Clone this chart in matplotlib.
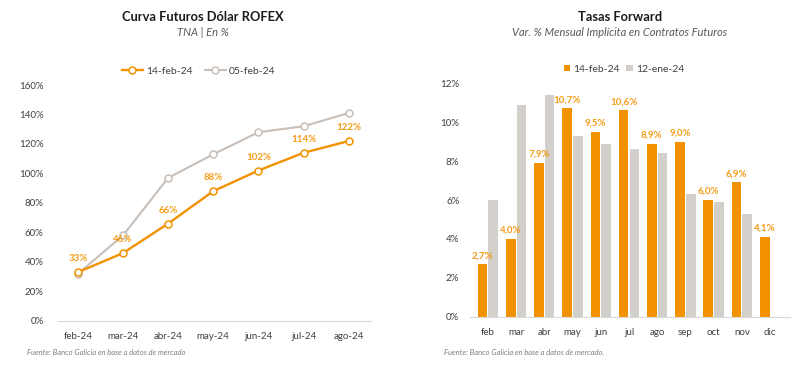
import matplotlib.pyplot as plt
import numpy as np

plt.rcParams['font.family'] = ['Lato', 'DejaVu Sans']

# left chart: futures curve
meses_fut = ["feb-24", "mar-24", "abr-24", "may-24", "jun-24", "jul-24", "ago-24"]
tna_14feb = [33, 46, 66, 88, 102, 114, 122]
tna_05feb = [32, 58, 97, 113, 128, 132, 141]

# right chart: forward rates
meses_fwd = ["feb", "mar", "abr", "may", "jun", "jul", "ago", "sep", "oct", "nov", "dic"]
fwd_14feb = [2.7, 4.0, 7.9, 10.7, 9.5, 10.6, 8.9, 9.0, 6.0, 6.9, 4.1]
fwd_12ene = [6.0, 10.9, 11.4, 9.3, 8.9, 8.6, 8.4, 6.3, 5.9, 5.3, np.nan]

orange = '#F39200'
grey_line = '#C8BFB8'
grey_bar = '#D3CFCB'
txt = '#404040'

fig = plt.figure(figsize=(8, 3.68), dpi=100)

# ---- left
ax1 = fig.add_axes([0.072, 0.128, 0.392, 0.641])
x = np.arange(len(meses_fut))
ax1.plot(x, tna_05feb, color=grey_line, lw=1.5, marker='o', ms=5,
         mfc='white', mec=grey_line, mew=1.1, label='05-feb-24', zorder=2)
ax1.plot(x, tna_14feb, color=orange, lw=1.7, marker='o', ms=5,
         mfc='white', mec=orange, mew=1.1, label='14-feb-24', zorder=3)
for xi, v in zip(x, tna_14feb):
    ax1.text(xi, v + 6, f"{v}%", ha='center', va='bottom', color=orange,
             fontsize=7, fontweight='bold', alpha=0.9)
ax1.set_xlim(-0.45, 6.5)
ax1.set_ylim(0, 160)
ax1.set_yticks(range(0, 161, 20))
ax1.set_yticklabels([f"{v}%" for v in range(0, 161, 20)])
ax1.set_xticks(x)
ax1.set_xticklabels(meses_fut)
h, l = ax1.get_legend_handles_labels()
ax1.legend(h[::-1], l[::-1], loc='lower center', bbox_to_anchor=(0.45, 1.0),
           ncol=2, frameon=False, fontsize=7.5, handlelength=2,
           columnspacing=1.2, handletextpad=0.3, labelcolor=txt)

# ---- right
ax2 = fig.add_axes([0.588, 0.139, 0.400, 0.635])
xb = np.arange(len(meses_fwd))
w = 0.34
ax2.bar(xb - 0.19, fwd_14feb, w, color=orange, label='14-feb-24')
ax2.bar(xb + 0.19, fwd_12ene, w, color=grey_bar, label='12-ene-24')
for xi, v in zip(xb, fwd_14feb):
    ax2.text(xi - 0.19, v + 0.2, f"{v:.1f}%".replace('.', ','), ha='center',
             va='bottom', color=orange, fontsize=7, fontweight='bold', alpha=0.9)
ax2.set_xlim(-0.62, 10.72)
ax2.set_ylim(0, 12)
ax2.set_yticks(range(0, 13, 2))
ax2.set_yticklabels([f"{v}%" for v in range(0, 13, 2)])
ax2.set_xticks(xb)
ax2.set_xticklabels(meses_fwd)
ax2.legend(loc='lower center', bbox_to_anchor=(0.48, 1.0), ncol=2,
           frameon=False, fontsize=7.5, handlelength=0.6, handleheight=0.6,
           columnspacing=0.6, handletextpad=0.3, labelcolor=txt)

for ax in (ax1, ax2):
    for s in ('top', 'right', 'left'):
        ax.spines[s].set_visible(False)
    ax.spines['bottom'].set_color('#D9D9D9')
    ax.tick_params(axis='both', length=0, labelsize=7, colors=txt)
    ax.tick_params(axis='x', pad=8)
ax1.tick_params(axis='y', pad=10)
ax2.tick_params(axis='y', pad=8)

fig.text(0.254, 0.955, "Curva Futuros Dólar ROFEX", ha='center', va='center',
         fontsize=9.3, fontweight='bold', color='#1a1a1a')
fig.text(0.254, 0.912, "TNA | En %", ha='center', va='center', fontsize=8,
         style='italic', color='#595959')
fig.text(0.775, 0.955, "Tasas Forward", ha='center', va='center',
         fontsize=9.3, fontweight='bold', color='#1a1a1a')
fig.text(0.775, 0.912, "Var. % Mensual Implícita en Contratos Futuros",
         ha='center', va='center', fontsize=8, style='italic', color='#595959')
fig.text(0.034, 0.035, "Fuente: Banco Galicia en base a datos de mercado",
         fontsize=5.5, style='italic', color='#7f7f7f')
fig.text(0.555, 0.035, "Fuente: Banco Galicia en base a datos de mercado.",
         fontsize=5.5, style='italic', color='#7f7f7f')

fig.savefig('out.png', dpi=100, facecolor='white')
